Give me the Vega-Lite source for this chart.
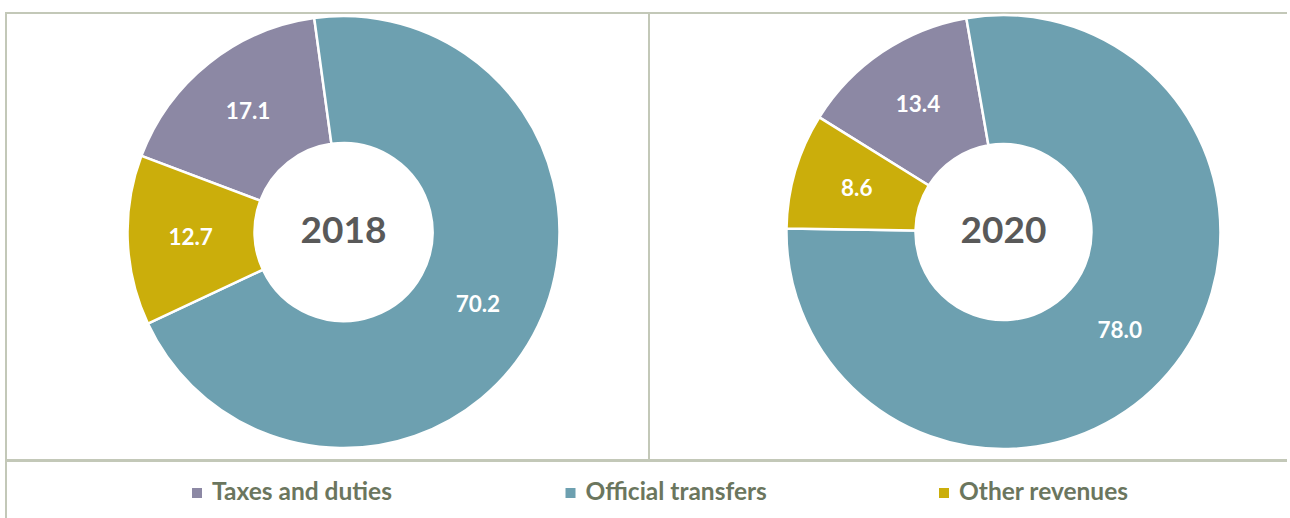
{
  "$schema": "https://vega.github.io/schema/vega-lite/v6.json",
  "padding": {"left": 5, "top": 9, "right": 0, "bottom": 0},
  "background": "white",
  "config": {"view": {"stroke": null}},
  "datasets": {
    "slices": [
      {"year": "2018", "category": "Taxes and duties", "value": 17.1},
      {"year": "2018", "category": "Official transfers", "value": 70.2},
      {"year": "2018", "category": "Other revenues", "value": 12.7},
      {"year": "2020", "category": "Taxes and duties", "value": 13.4},
      {"year": "2020", "category": "Official transfers", "value": 78.0},
      {"year": "2020", "category": "Other revenues", "value": 8.6}
    ]
  },
  "data": {"name": "slices"},
  "spacing": -4,
  "resolve": {"scale": {"x": "independent", "y": "independent"}},
  "vconcat": [
    {
      "spacing": 0,
      "bounds": "flush",
      "resolve": {"scale": {"x": "independent", "y": "independent", "theta": "independent"}},
      "hconcat": [
        {
          "width": 643,
          "height": 447,
          "view": {"stroke": "#c3c8b8", "strokeWidth": 2},
          "transform": [{"filter": "datum.year == '2018'"}],
          "encoding": {
            "x": {"field": "year", "type": "nominal", "axis": null, "scale": {"type": "point", "padding": 0, "align": 0.5249}},
            "y": {"field": "year", "type": "nominal", "axis": null, "scale": {"type": "point", "padding": 0, "align": 0.49}}
          },
          "layer": [
            {
              "mark": {"type": "arc", "outerRadius": 216, "innerRadius": 89, "stroke": "white", "strokeWidth": 2.5},
              "encoding": {
                "theta": {"field": "value", "type": "quantitative", "stack": true, "scale": {"domain": [0, 100], "range": [-0.1361, 6.1471]}},
                "order": {"field": "category", "type": "ordinal", "sort": "ascending"},
                "color": {"field": "category", "type": "nominal", "legend": null, "scale": {"domain": ["Taxes and duties", "Official transfers", "Other revenues"], "range": ["#8c88a4", "#6da0b0", "#cbae0b"]}}
              }
            },
            {
              "mark": {"type": "text", "radius": 153, "font": "Lato", "fontWeight": "bold", "fontSize": 22.5, "fill": "white"},
              "encoding": {
                "theta": {"field": "value", "type": "quantitative", "stack": true, "scale": {"domain": [0, 100], "range": [-0.1361, 6.1471]}},
                "order": {"field": "category", "type": "ordinal", "sort": "ascending"},
                "text": {"field": "value", "type": "quantitative", "format": ".1f"}
              }
            },
            {
              "transform": [{"filter": "datum.category == 'Official transfers'"}],
              "mark": {"type": "text", "font": "Lato", "fontWeight": "bold", "fontSize": 37, "fill": "#595959"},
              "encoding": {"text": {"field": "year", "type": "nominal"}}
            }
          ]
        },
        {
          "width": 638,
          "height": 447,
          "view": {"stroke": "#c3c8b8", "strokeWidth": 2, "strokeDash": [638, 447, 1085, 0]},
          "transform": [{"filter": "datum.year == '2020'"}],
          "encoding": {
            "x": {"field": "year", "type": "nominal", "axis": null, "scale": {"type": "point", "padding": 0, "align": 0.5556}},
            "y": {"field": "year", "type": "nominal", "axis": null, "scale": {"type": "point", "padding": 0, "align": 0.49}}
          },
          "layer": [
            {
              "mark": {"type": "arc", "outerRadius": 217, "innerRadius": 88, "stroke": "white", "strokeWidth": 2.5},
              "encoding": {
                "theta": {"field": "value", "type": "quantitative", "stack": true, "scale": {"domain": [0, 100], "range": [-0.1719, 6.1113]}},
                "order": {"field": "category", "type": "ordinal", "sort": "ascending"},
                "color": {"field": "category", "type": "nominal", "legend": null, "scale": {"domain": ["Taxes and duties", "Official transfers", "Other revenues"], "range": ["#8c88a4", "#6da0b0", "#cbae0b"]}}
              }
            },
            {
              "mark": {"type": "text", "radius": 153, "font": "Lato", "fontWeight": "bold", "fontSize": 22.5, "fill": "white"},
              "encoding": {
                "theta": {"field": "value", "type": "quantitative", "stack": true, "scale": {"domain": [0, 100], "range": [-0.1719, 6.1113]}},
                "order": {"field": "category", "type": "ordinal", "sort": "ascending"},
                "text": {"field": "value", "type": "quantitative", "format": ".1f"}
              }
            },
            {
              "transform": [{"filter": "datum.category == 'Official transfers'"}],
              "mark": {"type": "text", "font": "Lato", "fontWeight": "bold", "fontSize": 37, "fill": "#595959"},
              "encoding": {"text": {"field": "year", "type": "nominal"}}
            }
          ]
        }
      ]
    },
    {
      "width": 1281,
      "height": 58,
      "view": {"stroke": "#c3c8b8", "strokeWidth": 2, "strokeDash": [1281, 1339, 58, 0]},
      "transform": [{"filter": "datum.year == '2018'"}],
      "encoding": {
        "x": {"field": "category", "type": "nominal", "axis": null, "scale": {"type": "point", "domain": ["Taxes and duties", "Official transfers", "Other revenues"], "padding": 0.7149, "align": 0.3577}},
        "y": {"field": "year", "type": "nominal", "axis": null, "scale": {"type": "point", "padding": 0, "align": 0.552}}
      },
      "layer": [
        {
          "mark": {"type": "point", "shape": "square", "size": 100, "filled": true, "opacity": 1},
          "encoding": {
            "color": {"field": "category", "type": "nominal", "legend": null, "scale": {"domain": ["Taxes and duties", "Official transfers", "Other revenues"], "range": ["#8c88a4", "#6da0b0", "#cbae0b"]}}
          }
        },
        {
          "mark": {"type": "text", "align": "left", "dx": 15, "dy": 0, "font": "Lato", "fontWeight": "bold", "fontSize": 24.5, "fill": "#6b765e"},
          "encoding": {"text": {"field": "category", "type": "nominal"}}
        }
      ]
    }
  ]
}
